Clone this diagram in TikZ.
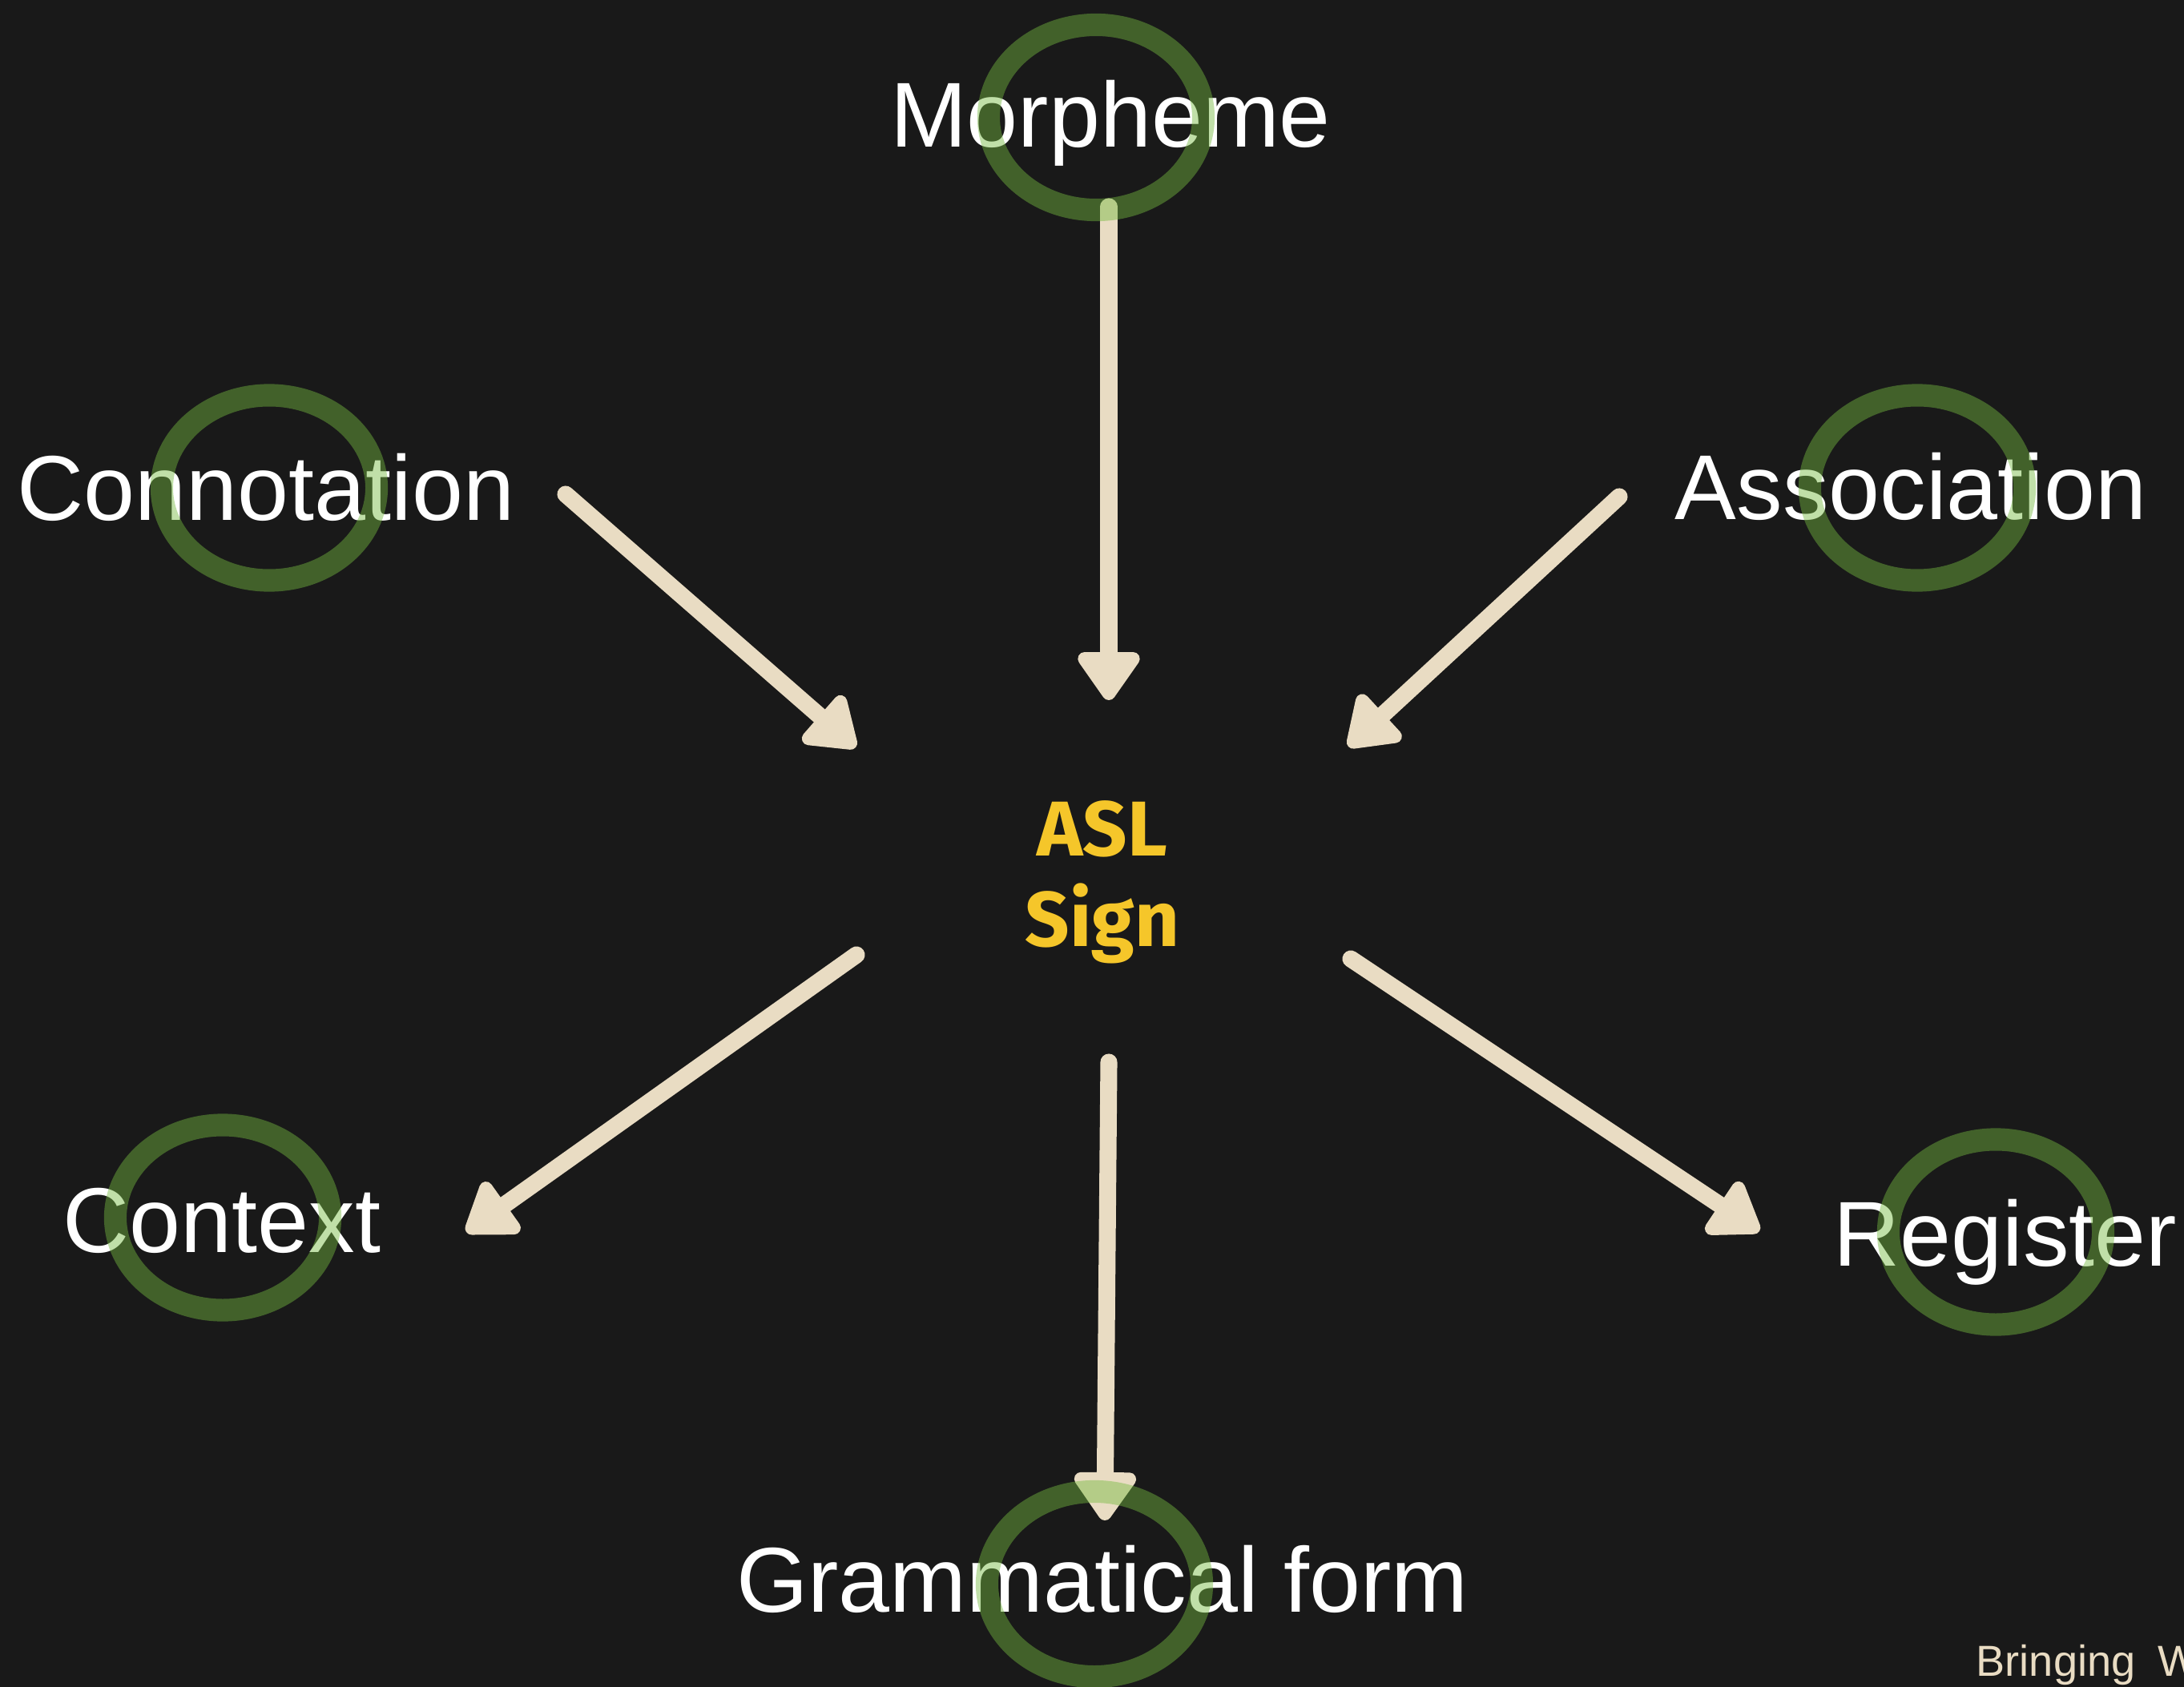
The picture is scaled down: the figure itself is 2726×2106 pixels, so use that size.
\documentclass[tikz,border=0pt]{standalone}
\usepackage{fontspec}
\setmainfont{Liberation Sans}
\newfontfamily\fira{Fira Sans}
\usetikzlibrary{arrows.meta}
\definecolor{bgc}{HTML}{191919}
\definecolor{cream}{HTML}{E9DCC3}
\definecolor{gold}{HTML}{F5C62A}
\definecolor{ringg}{HTML}{74BA3F}
\begin{document}
\begin{tikzpicture}[x=0.01cm,y=-0.01cm,
  lbl/.style={text=white, inner sep=0pt, anchor=base, font=\fontsize{32.7}{40}\selectfont},
  arr/.style={draw=cream, fill=cream, line width=6pt, line cap=round, -{Triangle[length=19pt,width=25pt,round]}},
  ring/.style={draw=ringg, draw opacity=0.45, line width=8pt}]
\fill[bgc] (0,0) rectangle (2726,2106);
\useasboundingbox (0,0) rectangle (2726,2106);

% labels
\node[lbl] (morph) at (1386,184) {Morpheme};
\node[lbl] (conn) at (332,649) {Connotation};
\node[lbl] (assoc) at (2385,648) {Association};
\node[lbl] (ctx) at (277,1563) {Context};
\node[lbl] (reg) at (2503,1580) {Register};
\node[lbl] (gram) at (1376,2012) {Grammatical form};

% centre
\node[text=gold, font=\fira\bfseries\fontsize{27.6}{31.9}\selectfont, align=center, inner sep=0pt, anchor=base] (asl) at (1376,1181) {ASL\\Sign};

% arrow end points
\coordinate (mS) at (1384,258);  \coordinate (mT) at (1384,874);
\coordinate (cS) at (706,617);   \coordinate (cT) at (1068,933);
\coordinate (aS) at (2021,620);  \coordinate (aT) at (1683,932);
\coordinate (xS) at (1069,1192); \coordinate (xT) at (582,1538);
\coordinate (gS) at (1384,1326); \coordinate (gT) at (1379,1898);
\coordinate (rS) at (1686,1197); \coordinate (rT) at (2196,1537);

\draw[arr] (mS) -- (mT);
\draw[arr] (cS) -- (cT);
\draw[arr] (aS) -- (aT);
\draw[arr] (xS) -- (xT);
\draw[arr] (gS) -- (gT);
\draw[arr] (rS) -- (rT);

% rings
\draw[ring] (1368,146.5) ellipse [x radius=1.34cm, y radius=1.155cm];
\draw[ring] (336,609) ellipse [x radius=1.34cm, y radius=1.155cm];
\draw[ring] (2393,609) ellipse [x radius=1.34cm, y radius=1.155cm];
\draw[ring] (278,1520) ellipse [x radius=1.34cm, y radius=1.155cm];
\draw[ring] (2491,1538) ellipse [x radius=1.34cm, y radius=1.155cm];
\draw[ring] (1366,1977.5) ellipse [x radius=1.34cm, y radius=1.155cm];

% footer
\node[text=cream, font=\fontsize{15.4}{18}\selectfont, anchor=base west, inner sep=0pt] (brand) at (2466,2092) {Bringing\hspace{8pt}W};
\end{tikzpicture}
\end{document}
